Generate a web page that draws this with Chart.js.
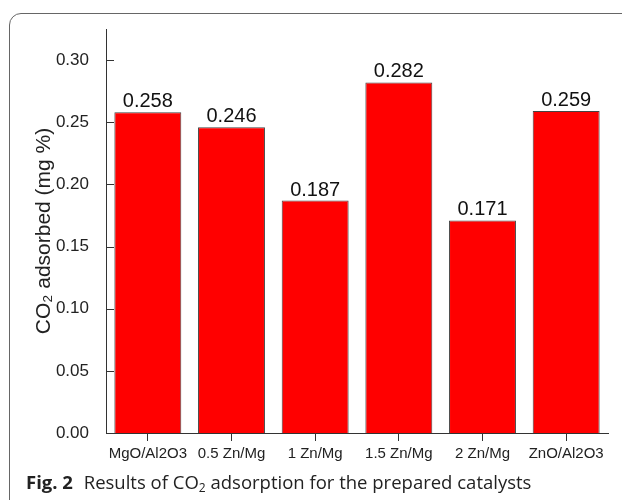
<!DOCTYPE html>
<html>
<head>
<meta charset="utf-8">
<script src="https://cdn.jsdelivr.net/npm/chart.js@4.4.1/dist/chart.umd.min.js"></script>
<style>
  html, body { margin: 0; padding: 0; background: #fff; }
  body { width: 622px; height: 500px; position: relative; overflow: hidden; }
  #frame {
    position: absolute; left: 9px; top: 13px; width: 700px; height: 600px;
    border: 1.5px solid #666; border-radius: 12px; box-sizing: border-box;
  }
  #wrap { position: absolute; left: 0; top: 0; width: 622px; height: 470px; }
  #caption {
    position: absolute; left: 26px; top: 469px; white-space: nowrap;
    font-family: "Open Sans", sans-serif; font-size: 18.5px; color: #222;
  }
  #caption b { margin-right: 6px; }
  #caption sub { font-size: 12px; vertical-align: -3px; line-height: 0; }
</style>
</head>
<body>
<div id="frame"></div>
<div id="wrap"><canvas id="barChart" width="622" height="470"></canvas></div>
<div id="caption"><b>Fig. 2</b> Results of CO<sub>2</sub> adsorption for the prepared catalysts</div>

<script>
// chart data
const categories = ["MgO/Al2O3", "0.5 Zn/Mg", "1 Zn/Mg", "1.5 Zn/Mg", "2 Zn/Mg", "ZnO/Al2O3"];
const adsorbed = [0.258, 0.246, 0.187, 0.282, 0.171, 0.259];
const yTicks = [0, 0.05, 0.10, 0.15, 0.20, 0.25, 0.30];
const yMax = 0.325;

const FONT = "'Liberation Sans', Arial, sans-serif";

// inward tick marks on the y axis
const innerTicks = {
  id: "innerTicks",
  afterDatasetsDraw(chart) {
    const ctx = chart.ctx;
    const y = chart.scales.y;
    ctx.save();
    ctx.strokeStyle = "#333";
    ctx.lineWidth = 1;
    yTicks.forEach(v => {
      const py = Math.round(y.getPixelForValue(v)) + 0.5;
      ctx.beginPath();
      ctx.moveTo(y.right, py);
      ctx.lineTo(y.right + 8, py);
      ctx.stroke();
    });
    ctx.restore();
  }
};

// value labels above the bars
const valueLabels = {
  id: "valueLabels",
  afterDatasetsDraw(chart) {
    const ctx = chart.ctx;
    const meta = chart.getDatasetMeta(0);
    ctx.save();
    ctx.font = "20px " + FONT;
    ctx.fillStyle = "#111";
    ctx.textAlign = "center";
    ctx.textBaseline = "alphabetic";
    meta.data.forEach((bar, i) => {
      ctx.fillText(adsorbed[i].toFixed(3), bar.x, bar.y - 5);
    });
    ctx.restore();
  }
};

new Chart(document.getElementById("barChart"), {
  type: "bar",
  data: {
    labels: categories,
    datasets: [{
      data: adsorbed,
      backgroundColor: "#ff0000",
      borderColor: "#444",
      borderWidth: 1,
      barPercentage: 0.8,
      categoryPercentage: 1.0
    }]
  },
  options: {
    responsive: false,
    animation: false,
    layout: { padding: { top: 29, right: 14, left: 0, bottom: 0 } },
    plugins: {
      legend: { display: false },
      tooltip: { enabled: false }
    },
    scales: {
      x: {
        offset: true,
        grid: {
          display: true,
          offset: false,
          drawOnChartArea: false,
          drawTicks: true,
          tickLength: 8,
          color: "#333"
        },
        border: { display: true, color: "#333", width: 1 },
        ticks: {
          color: "#222",
          padding: 4,
          maxRotation: 0,
          autoSkip: false,
          font: { family: FONT, size: 15 }
        },
        afterFit(scale) { scale.height = 37; }
      },
      y: {
        min: 0,
        max: yMax,
        grid: { display: false },
        border: { display: true, color: "#333", width: 1 },
        afterBuildTicks(scale) {
          scale.ticks = yTicks.map(v => ({ value: v }));
        },
        ticks: {
          color: "#222",
          padding: 9,
          font: { family: FONT, size: 17 },
          callback: v => Number(v).toFixed(2)
        },
        title: {
          display: true,
          text: "CO\u2082 adsorbed (mg %)",
          color: "#222",
          font: { family: FONT, size: 21 },
          padding: { top: 32, bottom: 0 }
        },
        afterFit(scale) { scale.width = 106; }
      }
    }
  },
  plugins: [innerTicks, valueLabels]
});
</script>
</body>
</html>
